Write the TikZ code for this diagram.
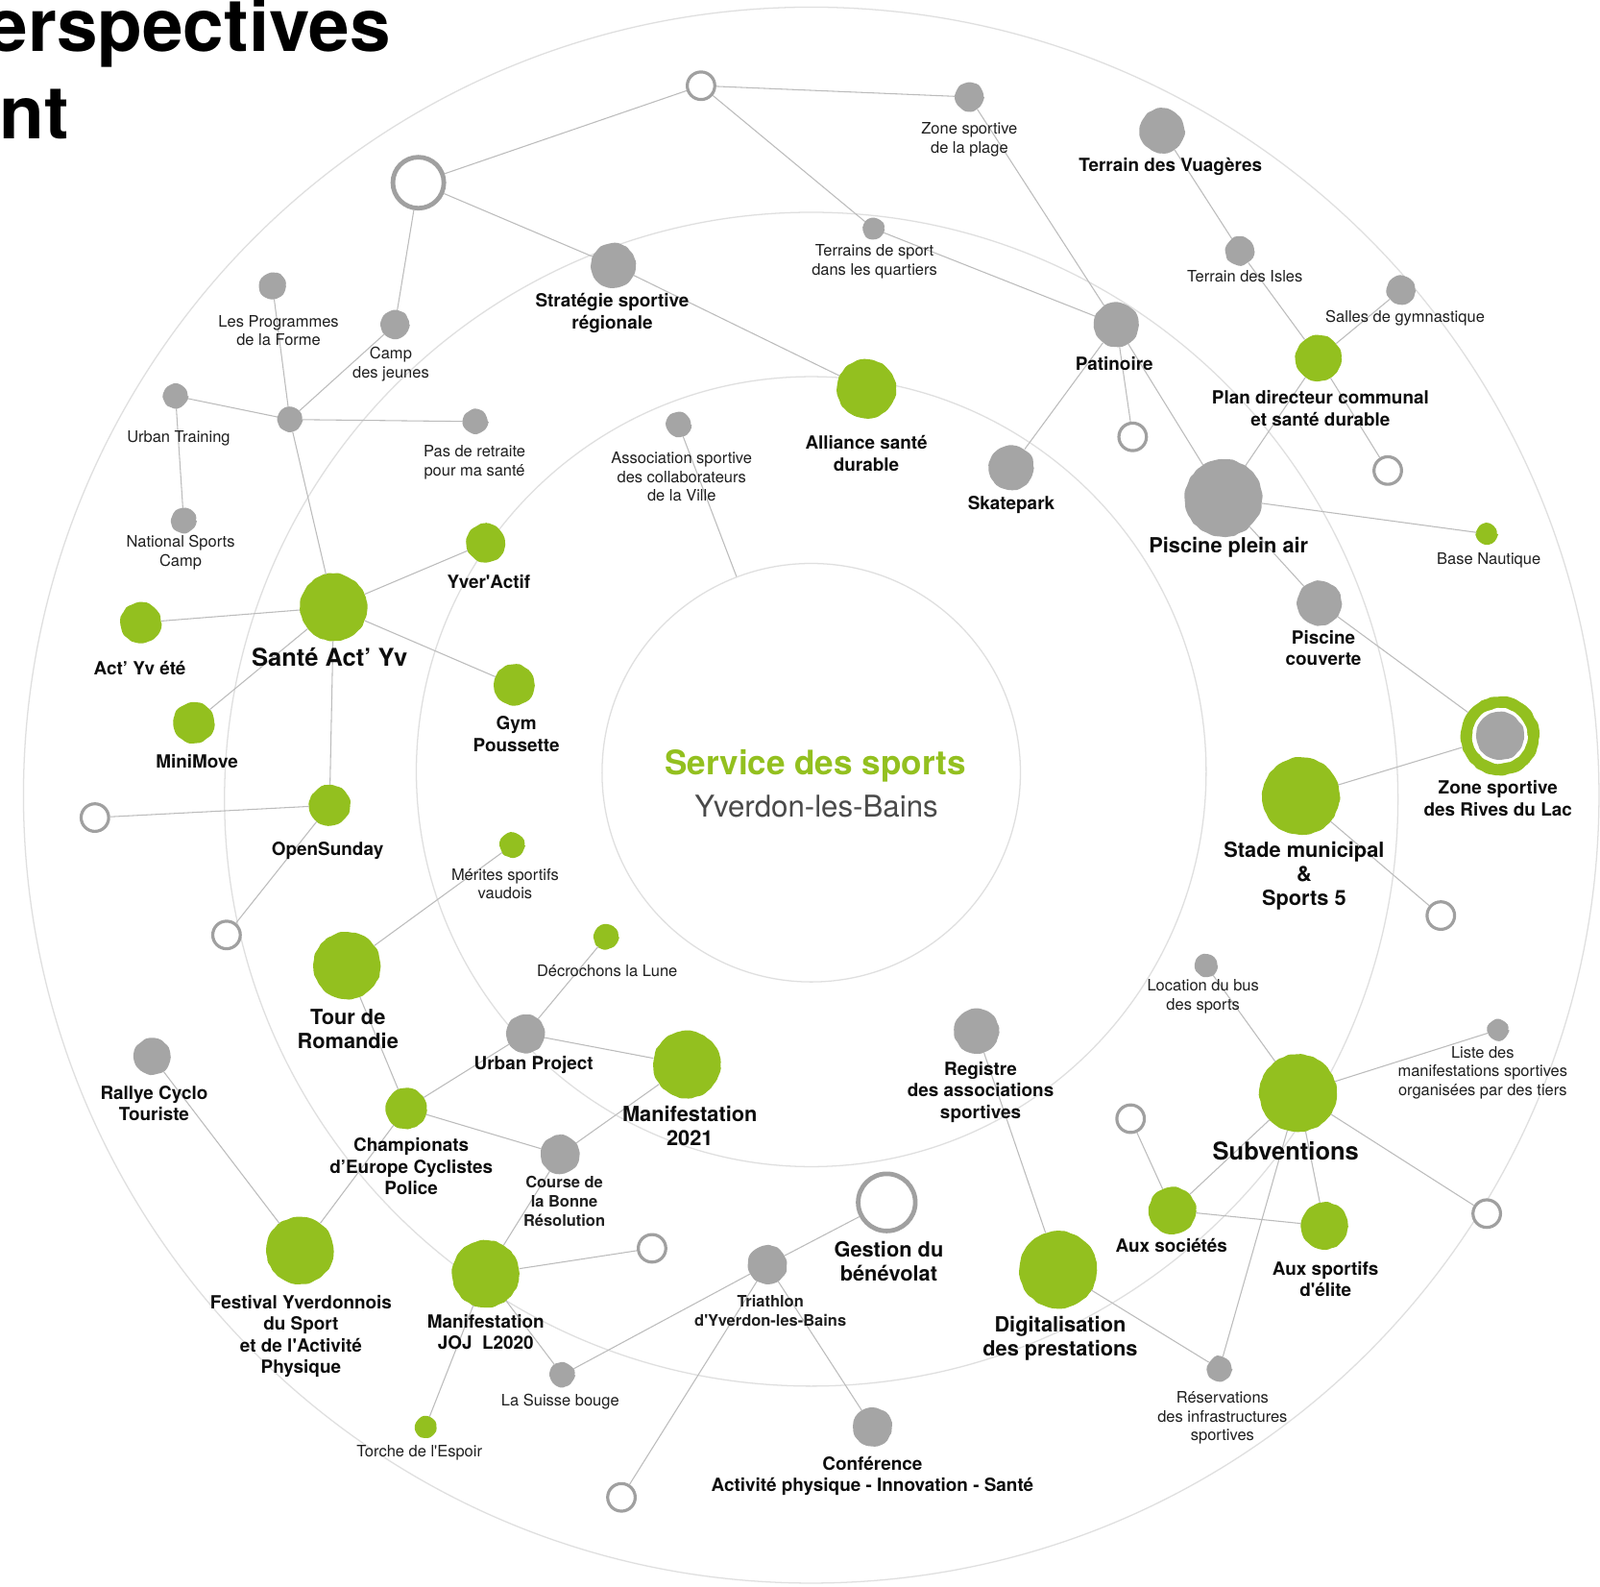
\documentclass[tikz,border=0pt]{standalone}
\usepackage{fontspec}
\setmainfont{TeX Gyre Heros}
\usetikzlibrary{decorations.pathmorphing}
\definecolor{sgreen}{HTML}{93C01F}
\definecolor{sgray}{HTML}{A5A5A5}
\definecolor{ogray}{HTML}{A0A0A0}
\definecolor{lgray}{HTML}{BCBCBC}
\definecolor{rgray}{HTML}{DFDFDF}
\definecolor{tgray}{HTML}{4A4A4A}

\tikzset{
  sketch/.style={decorate, decoration={random steps, segment length=3.5pt, amplitude=0.7pt}, rounded corners=1.5pt},
  gdot/.style={circle, sketch, fill=sgreen, inner sep=0pt, minimum size=#1pt},
  sdot/.style={circle, sketch, fill=sgray, inner sep=0pt, minimum size=#1pt},
  odot/.style={circle, draw=ogray, line width=3pt, line join=round, fill=white, inner sep=0pt, minimum size=#1pt},
  link/.style={draw=lgray, line width=1pt},
  ring/.style={draw=rgray, line width=1.2pt},
  txts/.style={inner sep=0pt, align=center, text=black!88, font=\fontsize{15.5}{18.5}\selectfont},
  txtsb/.style={txts, font=\bfseries\fontsize{15.5}{18.5}\selectfont},
  txtm/.style={inner sep=0pt, align=center, text=black!95, font=\bfseries\fontsize{17.8}{21.2}\selectfont},
  txtl/.style={txtm, font=\bfseries\fontsize{20.5}{23.5}\selectfont},
  txtxl/.style={txtm, font=\bfseries\fontsize{24}{28}\selectfont}
}

\begin{document}
\begin{tikzpicture}[x=1pt, y=-1pt]
    \useasboundingbox (0,0) rectangle (1568,1554);
    \clip (0,0) rectangle (1568,1554);
    \fill[white] (0,0) rectangle (1568,1554);

    \node[inner sep=0pt, anchor=base east, font=\bfseries\fontsize{72}{72}\selectfont] (ttitlea) at (383,50) {erspectives};
    \node[inner sep=0pt, anchor=base east, font=\bfseries\fontsize{72}{72}\selectfont] (ttitleb) at (68,136) {nt};

    \draw[ring] (795,779) circle[radius=772pt];
    \draw[ring] (795,783) circle[radius=575pt];
    \draw[ring] (795,756) circle[radius=387pt];
    \node[circle, draw=rgray, line width=1.2pt, inner sep=0pt, minimum size=410pt] (centre) at (795,757) {};
    \node[inner sep=0pt, text=sgreen, font=\bfseries\fontsize{33}{36}\selectfont] (tservice) at (799,750) {Service des sports};
    \node[inner sep=0pt, text=tgray, font=\fontsize{29.4}{32}\selectfont] (tville) at (800,790) {Yverdon-les-Bains};

    \node[sdot=26] (prog) at (267,280) {};
    \node[sdot=28] (camp) at (387,318) {};
    \node[sdot=24] (hub) at (284,411) {};
    \node[sdot=24] (urbtr) at (172,388) {};
    \node[sdot=24] (retraite) at (466,413) {};
    \node[sdot=24] (natcamp) at (180,510) {};
    \node[sdot=28] (plage) at (950,95) {};
    \node[sdot=21] (quartiers) at (856,224) {};
    \node[sdot=44] (strat) at (601,260) {};
    \node[sdot=24] (assoc) at (665,416) {};
    \node[sdot=44] (skate) at (991,458) {};
    \node[sdot=44] (vuag) at (1139,128) {};
    \node[sdot=28] (isles) at (1215,246) {};
    \node[sdot=28] (salles) at (1373,284) {};
    \node[sdot=44] (patin) at (1094,318) {};
    \node[sdot=76] (pleinair) at (1199,488) {};
    \node[sdot=44] (couverte) at (1293,591) {};
    \node[sdot=22] (bus) at (1182,946) {};
    \node[sdot=20] (liste) at (1468,1009) {};
    \node[sdot=44] (registre) at (957,1010) {};
    \node[sdot=38] (urbproj) at (515,1013) {};
    \node[sdot=38] (course) at (549,1131) {};
    \node[sdot=36] (rallye) at (149,1035) {};
    \node[sdot=38] (triath) at (752,1239) {};
    \node[sdot=24] (suisse) at (551,1347) {};
    \node[sdot=38] (conf) at (855,1398) {};
    \node[sdot=24] (reserv) at (1195,1341) {};

    \node[gdot=58] (alliance) at (849,381) {};
    \node[gdot=45] (plan) at (1292,351) {};
    \node[gdot=20] (base) at (1457,523) {};
    \node[gdot=38] (yver) at (476,532) {};
    \node[gdot=66] (sante) at (327,595) {};
    \node[gdot=40] (actyv) at (138,610) {};
    \node[gdot=40] (minimove) at (190,708) {};
    \node[gdot=40] (gym) at (504,671) {};
    \node[gdot=40] (opensun) at (323,789) {};
    \node[gdot=24] (merites) at (502,828) {};
    \node[gdot=66] (tour) at (340,946) {};
    \node[gdot=24] (decroch) at (594,918) {};
    \node[gdot=66] (manif) at (673,1043) {};
    \node[gdot=40] (champ) at (398,1086) {};
    \node[gdot=66] (festival) at (294,1225) {};
    \node[gdot=66] (joj) at (476,1248) {};
    \node[gdot=21] (torche) at (417,1398) {};
    \node[gdot=76] (stade) at (1275,780) {};
    \node[gdot=76] (subv) at (1272,1071) {};
    \node[gdot=76] (digit) at (1037,1244) {};
    \node[gdot=46] (socie) at (1149,1186) {};
    \node[gdot=46] (sportif) at (1298,1201) {};
    \node[gdot=77] (rives) at (1470,721) {};
    \node[circle, sketch, fill=white, inner sep=0pt, minimum size=54pt] (rivesgap) at (1470,721) {};
    \node[sdot=47] (rivesin) at (1470,721) {};

    \node[odot=50, line width=4.5pt] (obig) at (410,179) {};
    \node[odot=27] (otop) at (687,84) {};
    \node[odot=27] (opat) at (1110,428) {};
    \node[odot=27] (oplan) at (1360,461) {};
    \node[odot=27] (ostade) at (1412,897) {};
    \node[odot=27] (oleft) at (93,801) {};
    \node[odot=27] (olow) at (222,916) {};
    \node[odot=27] (ojoj) at (639,1223) {};
    \node[odot=27] (obottom) at (609,1467) {};
    \node[odot=56, line width=4.5pt] (gestion) at (869,1178) {};
    \node[odot=27] (osoc) at (1108,1096) {};
    \node[odot=27] (osubv) at (1457,1189) {};

    \draw[link] (obig) -- (otop);
    \draw[link] (obig) -- (strat);
    \draw[link] (obig) -- (camp);
    \draw[link] (camp) -- (hub);
    \draw[link] (prog) -- (hub);
    \draw[link] (urbtr) -- (hub);
    \draw[link] (hub) -- (retraite);
    \draw[link] (urbtr) -- (natcamp);
    \draw[link] (hub) -- (sante);
    \draw[link] (otop) -- (plage);
    \draw[link] (otop) -- (quartiers);
    \draw[link] (quartiers) -- (patin);
    \draw[link] (plage) -- (patin);
    \draw[link] (strat) -- (alliance);
    \draw[link] (assoc) -- (centre);
    \draw[link] (vuag) -- (isles);
    \draw[link] (isles) -- (plan);
    \draw[link] (salles) -- (plan);
    \draw[link] (plan) -- (oplan);
    \draw[link] (plan) -- (pleinair);
    \draw[link] (patin) -- (skate);
    \draw[link] (patin) -- (opat);
    \draw[link] (patin) -- (pleinair);
    \draw[link] (pleinair) -- (base);
    \draw[link] (pleinair) -- (couverte);
    \draw[link] (couverte) -- (rives);
    \draw[link] (rives) -- (stade);
    \draw[link] (stade) -- (ostade);
    \draw[link] (sante) -- (yver);
    \draw[link] (sante) -- (actyv);
    \draw[link] (sante) -- (minimove);
    \draw[link] (sante) -- (gym);
    \draw[link] (sante) -- (opensun);
    \draw[link] (opensun) -- (oleft);
    \draw[link] (opensun) -- (olow);
    \draw[link] (merites) -- (tour);
    \draw[link] (tour) -- (champ);
    \draw[link] (urbproj) -- (decroch);
    \draw[link] (urbproj) -- (manif);
    \draw[link] (urbproj) -- (champ);
    \draw[link] (champ) -- (course);
    \draw[link] (champ) -- (festival);
    \draw[link] (rallye) -- (festival);
    \draw[link] (course) -- (manif);
    \draw[link] (course) -- (joj);
    \draw[link] (joj) -- (torche);
    \draw[link] (joj) -- (ojoj);
    \draw[link] (joj) -- (suisse);
    \draw[link] (triath) -- (gestion);
    \draw[link] (triath) -- (suisse);
    \draw[link] (triath) -- (obottom);
    \draw[link] (triath) -- (conf);
    \draw[link] (registre) -- (digit);
    \draw[link] (digit) -- (reserv);
    \draw[link] (bus) -- (subv);
    \draw[link] (liste) -- (subv);
    \draw[link] (subv) -- (socie);
    \draw[link] (subv) -- (sportif);
    \draw[link] (subv) -- (reserv);
    \draw[link] (subv) -- (osubv);
    \draw[link] (socie) -- (osoc);
    \draw[link] (socie) -- (sportif);

    \node[txts] (tplage) at (950,137) {Zone sportive\\de la plage};
    \node[txts] (tquartiers) at (857,256) {Terrains de sport\\dans les quartiers};
    \node[txts] (tisles) at (1220,271) {Terrain des Isles};
    \node[txts] (tsalles) at (1377,312) {Salles de gymnastique};
    \node[txts] (tbase) at (1459,549) {Base Nautique};
    \node[txts] (tprog) at (273,324) {Les Programmes\\de la Forme};
    \node[txts] (tcamp) at (383,357) {Camp\\des jeunes};
    \node[txts] (turbtr) at (175,429) {Urban Training};
    \node[txts] (tretraite) at (465,453) {Pas de retraite\\pour ma santé};
    \node[txts] (tassoc) at (668,467) {Association sportive\\des collaborateurs\\de la Ville};
    \node[txts] (tnatcamp) at (177,541) {National Sports\\Camp};
    \node[txts] (tmerites) at (495,866) {Mérites sportifs\\vaudois};
    \node[txts] (tdecroch) at (595,951) {Décrochons la Lune};
    \node[txts] (tbus) at (1179,976) {Location du bus\\des sports};
    \node[txts] (tliste) at (1453,1051) {Liste des\\manifestations sportives\\organisées par des tiers};
    \node[txts] (treserv) at (1198,1389) {Réservations\\des infrastructures\\sportives};
    \node[txts] (tsuisse) at (549,1373) {La Suisse bouge};
    \node[txts] (ttorche) at (411,1423) {Torche de l\textquotesingle Espoir};
    \node[txtsb] (ttriath) at (755,1284) {Triathlon\\d\textquotesingle Yverdon-les-Bains};
    \node[txtsb] (tcourse) at (553,1177) {Course de\\la Bonne\\Résolution};

    \node[txtm] (tvuag) at (1147,163) {Terrain des Vuagères};
    \node[txtm] (tstrat) at (600,307) {Stratégie sportive\\régionale};
    \node[txtm] (talliance) at (849,444) {Alliance santé\\durable};
    \node[txtm] (tskate) at (991,495) {Skatepark};
    \node[txtm] (tpatin) at (1092,356) {Patinoire};
    \node[txtm] (tplan) at (1294,400) {Plan directeur communal\\et santé durable};
    \node[txtm] (tcouverte) at (1297,635) {Piscine\\couverte};
    \node[txtm] (trives) at (1468,782) {Zone sportive\\des Rives du Lac};
    \node[txtm] (tyver) at (479,570) {Yver\textquotesingle Actif};
    \node[txtm] (tactyv) at (137,655) {Act’ Yv été};
    \node[txtm] (tminimove) at (193,746) {MiniMove};
    \node[txtm] (tgym) at (506,719) {Gym\\Poussette};
    \node[txtm] (topensun) at (321,833) {OpenSunday};
    \node[txtm] (trallye) at (151,1081) {Rallye Cyclo\\Touriste};
    \node[txtm] (tchamp) at (403,1143) {Championats\\d’Europe Cyclistes\\Police};
    \node[txtm] (tfestival) at (295,1309) {Festival Yverdonnois\\du Sport\\et de l\textquotesingle Activité\\Physique};
    \node[txtm] (tjoj) at (476,1305) {Manifestation\\JOJ\ \ L2020};
    \node[txtm] (turbproj) at (523,1043) {Urban Project};
    \node[txtm] (tregistre) at (961,1070) {Registre\\des associations\\sportives};
    \node[txtm] (tsocie) at (1148,1220) {Aux sociétés};
    \node[txtm] (tsportif) at (1299,1253) {Aux sportifs\\d\textquotesingle élite};
    \node[txtm] (tconf) at (855,1446) {Conférence\\Activité physique - Innovation - Santé};

    \node[txtl] (tpleinair) at (1204,536) {Piscine plein air};
    \node[txtl] (tstade) at (1278,858) {Stade municipal\\\&\\Sports 5};
    \node[txtl] (ttour) at (341,1008) {Tour de\\Romandie};
    \node[txtl] (tmanif) at (676,1103) {Manifestation\\2021};
    \node[txtl] (tgestion) at (871,1236) {Gestion du\\bénévolat};
    \node[txtl] (tdigit) at (1039,1311) {Digitalisation\\des prestations};

    \node[txtxl] (tsante) at (323,644) {Santé Act’ Yv};
    \node[txtxl] (tsubv) at (1260,1128) {Subventions};
\end{tikzpicture}
\end{document}
